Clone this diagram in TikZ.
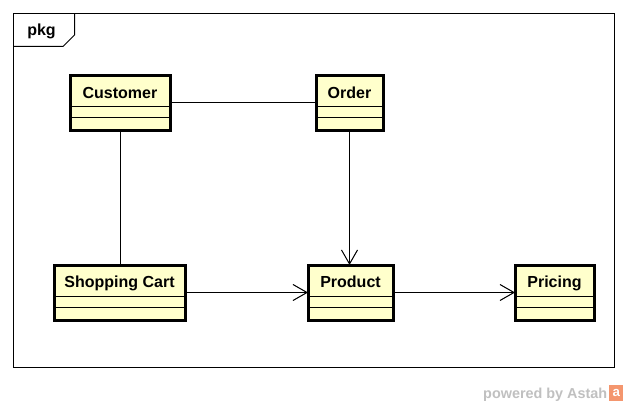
\documentclass[tikz,border=0pt]{standalone}
\usepackage{fontspec}
\setmainfont{Liberation Sans}
\usetikzlibrary{arrows.meta,calc}
\definecolor{clsfill}{RGB}{255,255,204}
\definecolor{logoor}{RGB}{244,150,110}
\definecolor{powgrey}{RGB}{192,192,192}
\tikzset{
  cls/.style={draw=black, fill=clsfill, line width=2.25pt, rectangle, outer sep=0pt, inner sep=0pt, minimum height=41.25pt},
  clsname/.style={font=\fontsize{12pt}{14pt}\selectfont\bfseries, anchor=base, inner sep=0pt},
  sep/.style={line width=0.75pt},
  conn/.style={line width=0.75pt},
  dep/.style={conn, -{Straight Barb[length=10.5pt,width=12pt,line width=0.75pt]}},
}
\newcommand{\umlbox}[5]{% name, x, y, width, label
  \node[cls, minimum width=#4*0.75pt] (#1) at (#2,#3) {};
  \draw[sep] ([yshift=-23.6pt]#1.north west) -- ([yshift=-23.6pt]#1.north east);
  \draw[sep] ([yshift=-31.5pt]#1.north west) -- ([yshift=-31.5pt]#1.north east);
  \node[clsname] (#1-name) at ([yshift=-16.9pt]#1.north) {#5};
}
\begin{document}
\begin{tikzpicture}[x=0.75pt,y=-0.75pt]
\useasboundingbox (0,0) rectangle (628,406);
\fill[white] (0,0) rectangle (628,406);
% frame
\node[draw, line width=0.75pt, rectangle, minimum width=601*0.75pt, minimum height=354*0.75pt, inner sep=0pt, outer sep=0pt] (frame) at (314,190.5) {};
\coordinate (tabA) at (13.5,46.5);
\coordinate (tabB) at (63,46.5);
\coordinate (tabC) at (74.5,35);
\coordinate (tabD) at (74.5,13.5);
\draw[line width=0.75pt] (tabA) -- (tabB) -- (tabC) -- (tabD);
\node[font=\fontsize{12pt}{14pt}\selectfont\bfseries, anchor=base, inner sep=0pt] (pkg) at (41.5,36) {pkg};
% classes
\umlbox{cust}{120}{103}{100}{Customer}
\umlbox{order}{349.5}{103}{67}{Order}
\umlbox{cart}{119.5}{292.5}{131}{Shopping Cart}
\umlbox{prod}{350.5}{292.5}{85}{Product}
\umlbox{pric}{554.5}{292.5}{79}{Pricing}
% connectors
\draw[conn] (cust.east) -- (order.west);
\draw[conn] (cust.south) -- (cust.south |- cart.north);
\draw[dep] (order.south) -- (order.south |- prod.north);
\draw[dep] (cart.east) -- (prod.west);
\draw[dep] (prod.east) -- (pric.west);
% powered by
\node[font=\fontsize{10.8pt}{12pt}\selectfont\bfseries, text=powgrey, anchor=base east, inner sep=0pt] (pow) at (607.5,398) {powered by Astah};
\node[fill=logoor, minimum width=10.5pt, minimum height=12pt, inner sep=0pt, anchor=north west, font=\fontsize{10pt}{10pt}\selectfont\bfseries, text=white] (logo) at (609,385) {a};
\end{tikzpicture}
\end{document}
